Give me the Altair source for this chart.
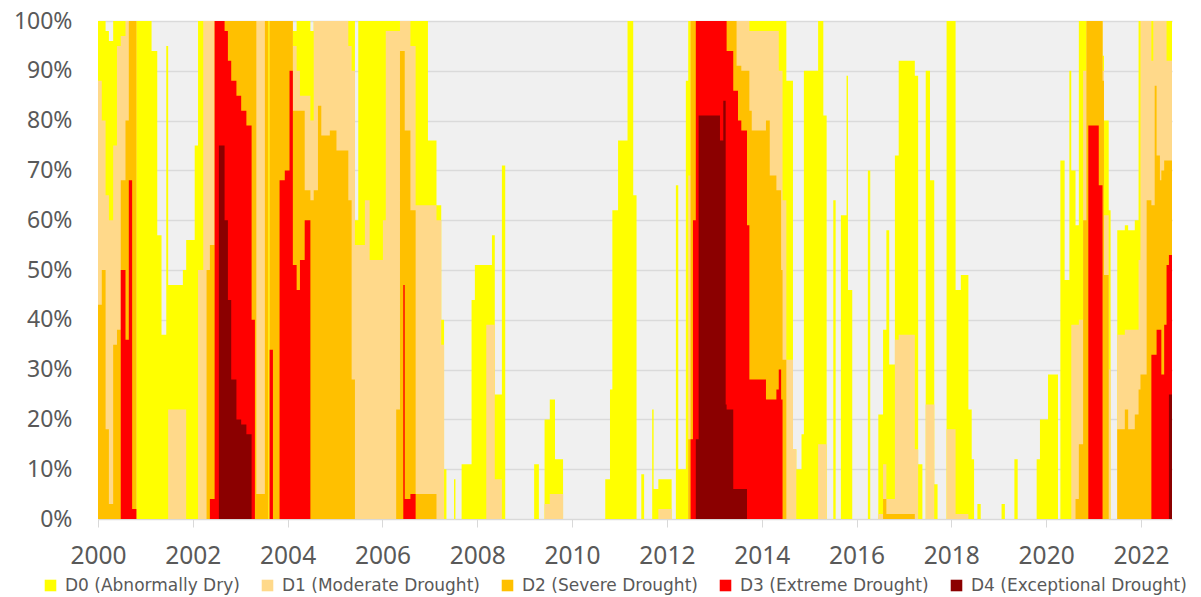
import altair as alt
import pandas as pd

# Decimal-year dates (weekly series summarised at change points)
years = [
    2000.00, 2000.08, 2000.16, 2000.23, 2000.32, 2000.40, 2000.48, 2000.58, 2000.65, 2000.72,
    2000.81, 2001.13, 2001.25, 2001.34, 2001.44, 2001.48, 2001.79, 2001.86, 2002.04, 2002.11,
    2002.22, 2002.29, 2002.36, 2002.46, 2002.55, 2002.67, 2002.74, 2002.81, 2002.92, 2003.02,
    2003.13, 2003.24, 2003.31, 2003.34, 2003.52, 2003.59, 2003.62, 2003.69, 2003.83, 2003.94,
    2004.04, 2004.11, 2004.19, 2004.26, 2004.36, 2004.48, 2004.55, 2004.64, 2004.71, 2004.89,
    2005.03, 2005.28, 2005.35, 2005.42, 2005.49, 2005.63, 2005.73, 2006.01, 2006.07, 2006.29,
    2006.37, 2006.44, 2006.47, 2006.59, 2006.70, 2006.96, 2007.14, 2007.24, 2007.30, 2007.35,
    2007.51, 2007.54, 2007.67, 2007.88, 2007.95, 2008.19, 2008.31, 2008.37, 2008.52, 2008.59,
    2009.20, 2009.30, 2009.42, 2009.53, 2009.64, 2009.81, 2010.70, 2010.80, 2010.85, 2010.97,
    2011.17, 2011.29, 2011.36, 2011.46, 2011.52, 2011.69, 2011.72, 2011.82, 2012.10, 2012.19,
    2012.24, 2012.40, 2012.45, 2012.50, 2012.55, 2012.61, 2012.67, 2013.12, 2013.19, 2013.24,
    2013.26, 2013.40, 2013.47, 2013.50, 2013.57, 2013.69, 2013.74, 2013.79, 2014.09, 2014.17,
    2014.31, 2014.36, 2014.41, 2014.44, 2014.52, 2014.66, 2014.73, 2014.84, 2014.89, 2015.19,
    2015.30, 2015.37, 2015.51, 2015.56, 2015.67, 2015.79, 2015.82, 2015.91, 2016.24, 2016.29,
    2016.46, 2016.56, 2016.63, 2016.69, 2016.81, 2016.89, 2017.23, 2017.30, 2017.39, 2017.46,
    2017.55, 2017.64, 2017.71, 2017.90, 2018.09, 2018.20, 2018.36, 2018.43, 2018.48, 2018.55,
    2018.62, 2019.06, 2019.13, 2019.33, 2019.40, 2019.80, 2019.87, 2020.04, 2020.25, 2020.30,
    2020.39, 2020.49, 2020.53, 2020.62, 2020.69, 2020.78, 2020.85, 2020.89, 2021.11, 2021.19,
    2021.22, 2021.32, 2021.36, 2021.50, 2021.66, 2021.73, 2021.87, 2021.95, 2021.99, 2022.12,
    2022.22, 2022.26, 2022.29, 2022.33, 2022.40, 2022.43, 2022.49, 2022.54, 2022.59, 2022.655,
]

# Cumulative percent of area in each category
d0 = [
    100, 100, 98, 96, 100, 100, 100, 100, 100, 100,
    100, 94, 57, 37, 95, 47, 50, 56, 75, 100,
    100, 100, 100, 100, 100, 100, 100, 100, 100, 100,
    100, 100, 100, 100, 100, 100, 100, 100, 100, 100,
    100, 98, 100, 100, 100, 98, 100, 100, 100, 100,
    100, 100, 100, 60, 100, 100, 100, 100, 100, 100,
    100, 100, 100, 100, 100, 76, 63, 40, 10, 0,
    8, 0, 11, 44, 51, 51, 57, 25, 71, 0,
    11, 0, 20, 24, 12, 0, 8, 26, 62, 76,
    100, 65, 0, 9, 0, 22, 6, 8, 0, 67,
    10, 88, 100, 100, 100, 100, 100, 100, 100, 100,
    100, 100, 100, 100, 100, 100, 100, 100, 100, 100,
    100, 100, 100, 100, 88, 14, 10, 17, 90, 100,
    81, 0, 64, 0, 61, 89, 46, 0, 70, 0,
    21, 38, 58, 31, 73, 92, 89, 11, 0, 90,
    68, 7, 0, 100, 46, 49, 22, 12, 0, 3,
    0, 3, 0, 12, 0, 12, 20, 29, 0, 72,
    48, 90, 70, 59, 100, 100, 100, 100, 100, 93,
    80, 62, 0, 58, 59, 58, 60, 100, 100, 100,
    100, 100, 100, 100, 100, 100, 100, 100, 100, 100,
]
d1 = [
    88, 80, 65, 60, 75, 95, 97, 100, 100, 100,
    0, 0, 0, 0, 0, 22, 22, 0, 0, 50,
    100, 100, 100, 100, 100, 100, 100, 100, 100, 100,
    100, 100, 100, 100, 100, 0, 100, 100, 100, 100,
    100, 95, 90, 85, 85, 80, 100, 100, 100, 100,
    100, 95, 90, 55, 55, 64, 52, 60, 98, 98,
    100, 100, 100, 95, 63, 63, 60, 35, 0, 0,
    0, 0, 0, 0, 0, 39, 39, 8, 0, 0,
    0, 0, 3, 5, 5, 0, 0, 0, 0, 0,
    0, 0, 0, 0, 0, 0, 0, 2, 0, 0,
    0, 0, 69, 100, 100, 100, 100, 100, 100, 100,
    100, 100, 100, 100, 100, 100, 98, 98, 98, 98,
    98, 90, 90, 64, 32, 14, 0, 0, 0, 15,
    15, 0, 0, 0, 0, 0, 0, 0, 0, 0,
    1, 11, 4, 4, 36, 37, 14, 0, 0, 23,
    23, 0, 0, 18, 1, 1, 0, 0, 0, 0,
    0, 0, 0, 0, 0, 0, 0, 0, 0, 0,
    0, 0, 39, 39, 40, 90, 100, 100, 100, 90,
    61, 30, 0, 37, 38, 38, 38, 52, 100, 100,
    92, 100, 100, 100, 100, 100, 100, 92, 92, 92,
]
d2 = [
    43, 50, 18, 3, 35, 38, 68, 80, 100, 100,
    0, 0, 0, 0, 0, 0, 0, 0, 0, 0,
    0, 50, 55, 100, 100, 100, 100, 100, 100, 100,
    100, 100, 100, 5, 100, 0, 100, 100, 100, 100,
    100, 82, 82, 82, 66, 64, 66, 83, 77, 78,
    74, 64, 28, 0, 0, 0, 0, 0, 0, 22,
    94, 94, 78, 62, 5, 5, 0, 0, 0, 0,
    0, 0, 0, 0, 0, 0, 0, 0, 0, 0,
    0, 0, 0, 0, 0, 0, 0, 0, 0, 0,
    0, 0, 0, 0, 0, 0, 0, 0, 0, 0,
    0, 0, 16, 100, 100, 100, 100, 100, 100, 100,
    100, 100, 91, 91, 90, 90, 82, 78, 80, 69,
    66, 66, 50, 32, 0, 0, 0, 0, 0, 0,
    0, 0, 0, 0, 0, 0, 0, 0, 0, 0,
    0, 4, 1, 1, 1, 1, 0, 0, 0, 0,
    0, 0, 0, 0, 0, 0, 0, 0, 0, 0,
    0, 0, 0, 0, 0, 0, 0, 0, 0, 0,
    0, 0, 0, 4, 15, 60, 100, 100, 100, 88,
    49, 0, 0, 18, 22, 18, 21, 26, 29, 64,
    63, 63, 87, 73, 68, 70, 72, 72, 72, 72,
]
d3 = [
    0, 0, 0, 0, 0, 0, 50, 36, 68, 2,
    0, 0, 0, 0, 0, 0, 0, 0, 0, 0,
    0, 0, 4, 100, 100, 98, 92, 88, 85, 82,
    79, 40, 0, 0, 0, 0, 34, 0, 68, 70,
    90, 51, 46, 52, 60, 0, 0, 0, 0, 0,
    0, 0, 0, 0, 0, 0, 0, 0, 0, 0,
    0, 47, 4, 5, 0, 0, 0, 0, 0, 0,
    0, 0, 0, 0, 0, 0, 0, 0, 0, 0,
    0, 0, 0, 0, 0, 0, 0, 0, 0, 0,
    0, 0, 0, 0, 0, 0, 0, 0, 0, 0,
    0, 0, 0, 16, 60, 100, 100, 100, 100, 100,
    94, 86, 86, 80, 78, 59, 28, 28, 24, 24,
    26, 30, 24, 0, 0, 0, 0, 0, 0, 0,
    0, 0, 0, 0, 0, 0, 0, 0, 0, 0,
    0, 0, 0, 0, 0, 0, 0, 0, 0, 0,
    0, 0, 0, 0, 0, 0, 0, 0, 0, 0,
    0, 0, 0, 0, 0, 0, 0, 0, 0, 0,
    0, 0, 0, 0, 0, 0, 0, 79, 67, 0,
    0, 0, 0, 0, 0, 0, 0, 0, 0, 0,
    33, 33, 33, 38, 38, 29, 39, 51, 53, 53,
]
d4 = [
    0, 0, 0, 0, 0, 0, 0, 0, 0, 0,
    0, 0, 0, 0, 0, 0, 0, 0, 0, 0,
    0, 0, 0, 0, 75, 60, 44, 28, 20, 19,
    17, 0, 0, 0, 0, 0, 0, 0, 0, 0,
    0, 0, 0, 0, 0, 0, 0, 0, 0, 0,
    0, 0, 0, 0, 0, 0, 0, 0, 0, 0,
    0, 0, 0, 0, 0, 0, 0, 0, 0, 0,
    0, 0, 0, 0, 0, 0, 0, 0, 0, 0,
    0, 0, 0, 0, 0, 0, 0, 0, 0, 0,
    0, 0, 0, 0, 0, 0, 0, 0, 0, 0,
    0, 0, 0, 0, 0, 16, 81, 76, 84, 23,
    22, 6, 6, 6, 6, 0, 0, 0, 0, 0,
    0, 0, 0, 0, 0, 0, 0, 0, 0, 0,
    0, 0, 0, 0, 0, 0, 0, 0, 0, 0,
    0, 0, 0, 0, 0, 0, 0, 0, 0, 0,
    0, 0, 0, 0, 0, 0, 0, 0, 0, 0,
    0, 0, 0, 0, 0, 0, 0, 0, 0, 0,
    0, 0, 0, 0, 0, 0, 0, 0, 0, 0,
    0, 0, 0, 0, 0, 0, 0, 0, 0, 0,
    0, 0, 0, 0, 0, 0, 0, 0, 25, 25,
]

categories = [
    "D0 (Abnormally Dry)",
    "D1 (Moderate Drought)",
    "D2 (Severe Drought)",
    "D3 (Extreme Drought)",
    "D4 (Exceptional Drought)",
]
colors = ["#FFFF00", "#FFD98A", "#FFC000", "#FF0000", "#8B0000"]
x_ticks = list(range(2000, 2023, 2))
y_ticks = list(range(0, 101, 10))

records = []
for cat, series in zip(categories, [d0, d1, d2, d3, d4]):
    for yr, v in zip(years, series):
        records.append({"year": yr, "cat": cat, "pct": v})
df = pd.DataFrame(records)

x_enc = alt.X(
    "year:Q",
    scale=alt.Scale(domain=[2000, 2022.655], nice=False, zero=False),
    axis=alt.Axis(
        values=x_ticks, format="d", grid=False, domainColor="#D9D9D9",
        tickColor="#D9D9D9", tickSize=8, labelPadding=17, labelFontSize=24.5,
        labelFont="Noto Sans", labelColor="#595959", labelFlush=False,
    ),
    title=None,
)
y_enc = alt.Y(
    "pct:Q",
    scale=alt.Scale(domain=[0, 100], nice=False),
    axis=alt.Axis(
        values=y_ticks, labelExpr="datum.value + '%'", grid=True,
        gridColor="#DADADA", gridWidth=1.5, domain=False, ticks=False,
        labelPadding=26, labelFontSize=23, labelFont="Noto Sans",
        labelColor="#595959",
    ),
    title=None,
)
color_enc = alt.Color(
    "cat:N",
    scale=alt.Scale(domain=categories, range=colors),
    legend=alt.Legend(
        title=None, orient="none", legendX=-56, legendY=556,
        direction="horizontal", columns=5, gridAlign="none", symbolType="square",
        symbolSize=134, symbolStrokeWidth=0, labelFont="DejaVu Sans",
        labelFontSize=17, labelColor="#595959", labelOffset=6,
        columnPadding=19, labelLimit=400, padding=0,
    ),
)

base = alt.Chart(df)
layers = [
    base.transform_filter(alt.datum.cat == cat)
    .mark_area(interpolate="step-after", opacity=1)
    .encode(x=x_enc, y=y_enc, color=color_enc)
    for cat in categories
]

chart = (
    alt.layer(*layers)
    .properties(
        width=1074, height=498,
        autosize=alt.AutoSizeParams(type="none"),
        padding={"left": 90, "top": 13, "right": 21, "bottom": 76},
        background="white",
    )
    .configure_view(fill="#F0F0F0", strokeWidth=0)
)

chart.save("out.html", embed_options={"renderer": "svg", "actions": False})
